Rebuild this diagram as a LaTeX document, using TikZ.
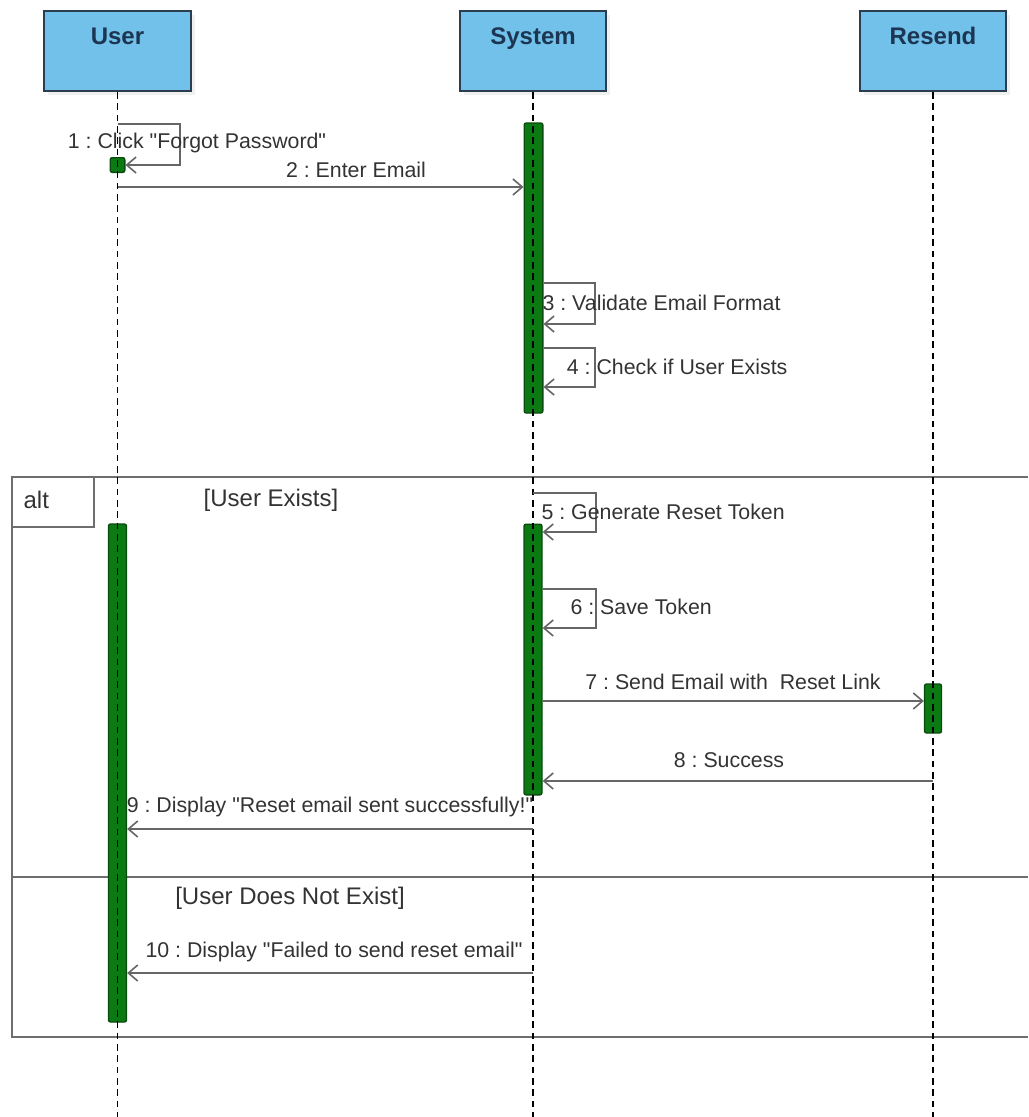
\documentclass[tikz,border=0pt]{standalone}
\usepackage{fontspec}
\setmainfont{Liberation Sans}[Ligatures=TeXOff]
\usetikzlibrary{arrows.meta,shadows}
\definecolor{headfill}{HTML}{72C1EA}
\definecolor{headdraw}{HTML}{2B3E50}
\definecolor{headtext}{HTML}{1B3552}
\definecolor{actfill}{HTML}{0B7A12}
\definecolor{actdraw}{HTML}{0A4A0E}
\definecolor{msgline}{HTML}{666666}
\definecolor{msgtext}{HTML}{333333}
\definecolor{framecol}{HTML}{6E6E6E}
\begin{document}
\frenchspacing
\begin{tikzpicture}[x=0.75pt,y=-0.75pt,
 head/.style={draw=headdraw, line width=1.5pt, fill=headfill, minimum width=110pt, minimum height=60pt, inner sep=0pt,
   drop shadow={opacity=0.12, shadow xshift=3pt, shadow yshift=-3pt}},
 headlbl/.style={font=\fontsize{18}{20}\selectfont\bfseries, text=headtext, anchor=base, yshift=-26pt},
 act/.style={draw=actdraw, fill=actfill, line width=1pt, rounded corners=1.5pt, inner sep=0pt},
 lifeline/.style={draw=black, line width=1.2pt, dash pattern=on 5pt off 3.5pt},
 msg/.style={draw=msgline, line width=1.5pt, -{Straight Barb[length=7pt,width=12pt,line width=1.2pt]}},
 mlbl/.style={font=\fontsize{16}{18}\selectfont, text=msgtext, inner sep=1pt},
 guard/.style={font=\fontsize{18}{20}\selectfont, text=msgtext, inner sep=1pt},
 frame/.style={draw=framecol, line width=1.5pt}
]
\useasboundingbox (0,0) rectangle (1028,1117);
\coordinate (bottom) at (0,1117);

% combined fragment
\draw[frame] (1028,477) -- (12,477) -- (12,1037) -- (1028,1037);
\draw[frame] (12,877) -- (1028,877);
\draw[frame] (12,527) -| (94,477);
\node[guard, anchor=west] (alt) at (22,500) {alt};
\node[guard] (g1) at (271,500) {[User Exists]};
\node[guard] (g2) at (290,898) {[User Does Not Exist]};

% heads
\node[head, label={[headlbl]north:User}] (user) at (117.5,51) {};
\node[head, label={[headlbl]north:System}] (sys) at (533,51) {};
\node[head, label={[headlbl]north:Resend}] (res) at (933,51) {};

% activations
\node[act, minimum width=11pt, minimum height=11pt] (aU1) at (117.5,165) {};
\node[act, minimum width=14pt, minimum height=217.5pt] (aS1) at (533.5,268) {};
\node[act, minimum width=13.5pt, minimum height=373.5pt] (aU2) at (117.5,773) {};
\node[act, minimum width=13.5pt, minimum height=203pt] (aS2) at (533,659.5) {};
\node[act, minimum width=12.75pt, minimum height=36.75pt] (aR) at (933,708.5) {};

% lifelines
\draw[lifeline] (user.south) -- (user.south |- bottom);
\draw[lifeline] (sys.south) -- (sys.south |- bottom);
\draw[lifeline] (res.south) -- (res.south |- bottom);

% messages
\draw[msg] (user.south |- 0,124) -- (180,124) |- (aU1.east);
\node[mlbl] (l1) at (197,143) {1 : Click "Forgot Password"};

\draw[msg] (user.south |- 0,187) -- (aS1.west |- 0,187);
\node[mlbl] (l2) at (356,170) {2 : Enter Email};

\draw[msg] (aS1.east |- 0,283) -- (595,283) -- (595,324) -- (aS1.east |- 0,324);
\node[mlbl, anchor=west] (l3) at (541,303) {3 : Validate Email Format};

\draw[msg] (aS1.east |- 0,348) -- (595,348) -- (595,387) -- (aS1.east |- 0,387);
\node[mlbl, anchor=east] (l4) at (789,367) {4 : Check if User Exists};

\draw[msg] (sys.south |- 0,493) -- (596,493) -- (596,532) -- (aS2.east |- 0,532);
\node[mlbl, anchor=west] (l5) at (540,512) {5 : Generate Reset Token};

\draw[msg] (aS2.east |- 0,589) -- (596,589) -- (596,628) -- (aS2.east |- 0,628);
\node[mlbl, anchor=west] (l6) at (569,607) {6 : Save Token};

\draw[msg] (aS2.east |- 0,701) -- (aR.west |- 0,701);
\node[mlbl] (l7) at (733,682) {7 : Send Email with\ \ Reset Link};

\draw[msg] (res.south |- 0,781) -- (aS2.east |- 0,781);
\node[mlbl] (l8) at (729,760) {8 : Success};

\draw[msg] (sys.south |- 0,829) -- (aU2.east |- 0,829);
\node[mlbl] (l9) at (330,807) {9 : Display "Reset email sent successfully!"};

\draw[msg] (sys.south |- 0,973) -- (aU2.east |- 0,973);
\node[mlbl] (l10) at (334,952) {10 : Display "Failed to send reset email"};
\end{tikzpicture}
\end{document}
